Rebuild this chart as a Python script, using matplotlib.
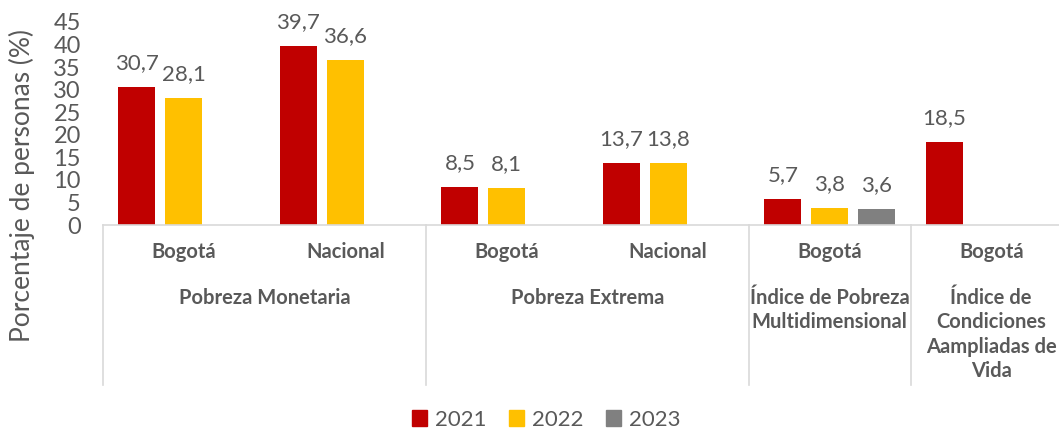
import matplotlib.pyplot as plt
from matplotlib.patches import Patch

plt.rcParams['font.family'] = ['Lato', 'DejaVu Sans']

categories = ['Bogotá', 'Nacional', 'Bogotá', 'Nacional', 'Bogotá', 'Bogotá']
groups = ['Pobreza Monetaria', 'Pobreza Extrema',
          'Índice de Pobreza\nMultidimensional',
          'Índice de\nCondiciones\nAampliadas de\nVida']
group_spans = [(0, 1), (2, 3), (4, 4), (5, 5)]

series = ['2021', '2022', '2023']
v2021 = [30.7, 39.7, 8.5, 13.7, 5.7, 18.5]
v2022 = [28.1, 36.6, 8.1, 13.8, 3.8, None]
v2023 = [None, None, None, None, 3.6, None]
colors = ['#C00000', '#FFC000', '#808080']

txt = '#595959'

fig = plt.figure(figsize=(10.59, 4.29), dpi=100)
ax = fig.add_axes([103 / 1059, (429 - 225) / 429, 969 / 1059, 203 / 429])

offsets = [-0.29, 0.0, 0.29]
width = 0.23
for vals, off, col in zip([v2021, v2022, v2023], offsets, colors):
    for i, v in enumerate(vals):
        if v is None:
            continue
        ax.bar(i + off, v, width=width, color=col)
        ax.annotate(f'{v:.1f}'.replace('.', ','), (i + off, v),
                    xytext=(0, 10), textcoords='offset points',
                    ha='center', va='bottom', fontsize=16, color=txt)

ax.set_xlim(-0.5, 5.5)
ax.set_ylim(0, 45)
ax.set_yticks(range(0, 46, 5))
ax.tick_params(axis='y', length=0, labelsize=17, labelcolor=txt, pad=16)
ax.set_xticks([])
for s in ['top', 'right', 'left']:
    ax.spines[s].set_visible(False)
ax.spines['bottom'].set_color('#D9D9D9')
ax.spines['bottom'].set_linewidth(1.2)

fig.text(22 / 1059, 1 - 185 / 429, 'Porcentaje de personas (%)', rotation=90,
         ha='center', va='center', fontsize=19, color=txt)

tr = ax.get_xaxis_transform()


def yfrac(py):
    return (225 - py) / 203


for i, c in enumerate(categories):
    ax.text(i, yfrac(252), c, transform=tr, ha='center', va='center',
            fontsize=14.5, fontweight='bold', color=txt)

for g, (a, b) in zip(groups, group_spans):
    ax.text((a + b) / 2, yfrac(288), g, transform=tr, ha='center', va='top',
            fontsize=14.5, fontweight='bold', color=txt, linespacing=1.27)

for xb in [-0.5, 1.5, 3.5, 4.5]:
    ax.plot([xb, xb], [0, yfrac(385)], transform=tr, color='#D9D9D9',
            lw=1.2, clip_on=False)

handles = [Patch(color=c, label=s) for c, s in zip(colors, series)]
fig.legend(handles=handles, loc='center', bbox_to_anchor=(546 / 1059, 1 - 420 / 429),
           ncol=3, frameon=False, fontsize=16, labelcolor=txt,
           handlelength=0.7, handleheight=0.7, handletextpad=0.35,
           columnspacing=1.0)

fig.savefig('out.png', dpi=100)
